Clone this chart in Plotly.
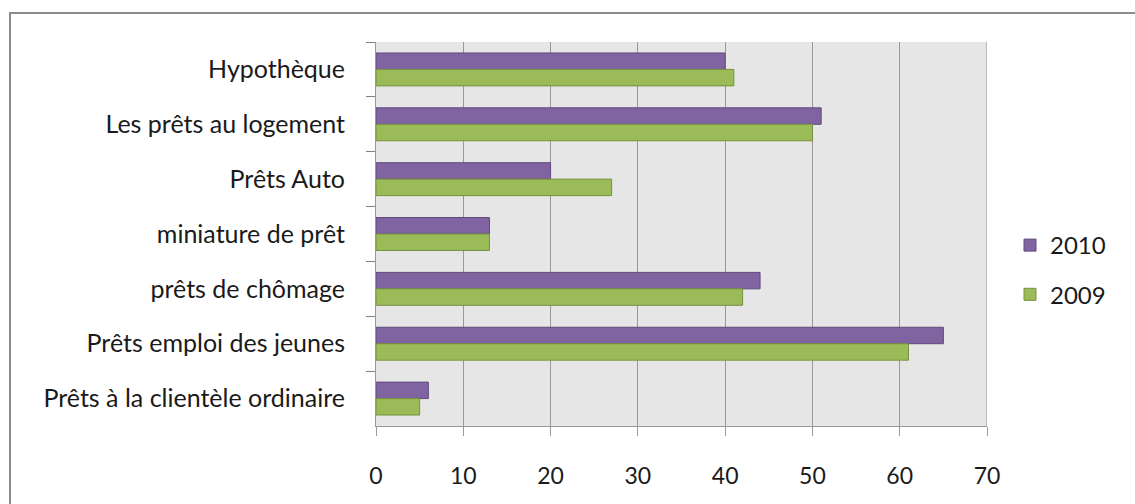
import plotly.graph_objects as go

categories = ["Hypothèque", "Les prêts au logement", "Prêts Auto", "miniature de prêt",
              "prêts de chômage", "Prêts emploi des jeunes", "Prêts à la clientèle ordinaire"]
values_2010 = [40, 51, 20, 13, 44, 65, 6]
values_2009 = [41, 50, 27, 13, 42, 61, 5]
x_ticks = [0, 10, 20, 30, 40, 50, 60, 70]

FONT = "Lato"
W, H = 1135, 504
ML, MR, MT, MB = 376, 148, 42, 78
pw, ph = W - ML - MR, H - MT - MB

fig = go.Figure()
fig.add_trace(go.Bar(y=categories, x=values_2010, orientation="h", name="2010",
                     legendgroup="a",
                     marker=dict(color="#8064A2", line=dict(color="#5F4A7C", width=1))))
fig.add_trace(go.Bar(y=categories, x=values_2009, orientation="h", name="2009",
                     legendgroup="b",
                     marker=dict(color="#9BBB59", line=dict(color="#76923C", width=1))))

fig.update_layout(
    width=W, height=H,
    margin=dict(l=ML, r=MR, t=MT, b=MB, pad=0),
    paper_bgcolor="white",
    plot_bgcolor="#E6E6E6",
    barmode="group",
    bargap=0.40,
    bargroupgap=0.0,
    font=dict(family=FONT, size=25, color="#1A1A1A"),
    legend=dict(x=(1010 - ML) / pw, xanchor="left", y=(426 - 270) / ph, yanchor="middle",
                tracegroupgap=15, font=dict(size=24), bgcolor="rgba(0,0,0,0)",
                itemwidth=30),
    xaxis=dict(range=[0, 70], tickvals=x_ticks, showgrid=True, gridcolor="#999999",
               gridwidth=1, zeroline=False, showline=True, linecolor="#999999",
               linewidth=1, ticks="outside", ticklen=9, tickcolor="#999999",
               tickfont=dict(size=23),
               ticklabelstandoff=20, mirror=False, fixedrange=True),
    yaxis=dict(categoryorder="array", categoryarray=categories, autorange="reversed",
               showline=True, linecolor="#999999", linewidth=1, ticks="outside",
               tickson="boundaries", ticklen=9, tickcolor="#808080",
               ticklabelstandoff=25, showgrid=False, fixedrange=True),
    shapes=[
        dict(type="rect", xref="paper", yref="paper",
             x0=(10 - ML) / pw, x1=(1140 - ML) / pw,
             y0=(H + 10 - (H - MB)) / -ph, y1=(H - MB - 13) / ph,
             line=dict(color="#8C8C8C", width=2), fillcolor="rgba(0,0,0,0)", layer="below"),
        dict(type="line", xref="x", yref="paper", x0=70, x1=70, y0=0, y1=1,
             line=dict(color="#8C8C8C", width=1)),
    ],
)

fig.write_html("out.html")
